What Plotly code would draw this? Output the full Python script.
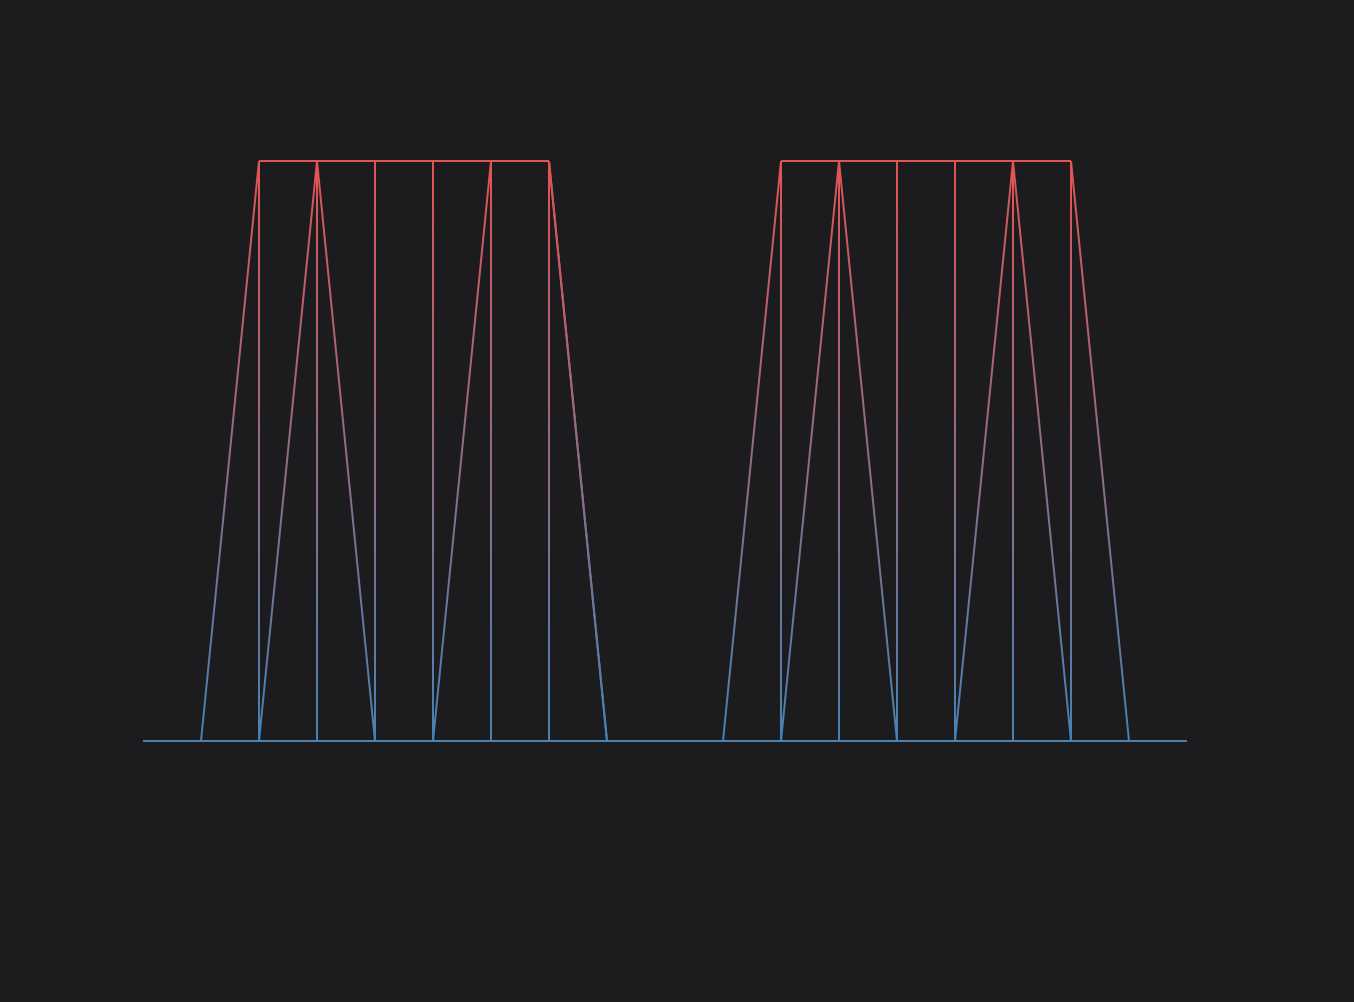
import plotly.graph_objects as go

# ---- data ----
x_vals = list(range(19))
trapezoid = [0, 0, 1, 1, 1, 1, 1, 1, 0, 0, 0, 1, 1, 1, 1, 1, 1, 0, 0]
pulses = [0, 0, 0, 1, 0, 0, 1, 1, 0, 0, 0, 0, 1, 0, 0, 1, 0, 0, 0]
clock_a = [0, 0, 1, 0, 1, 0, 1, 0, 0, 0, 0, 1, 0, 1, 0, 1, 0, 0, 0]
clock_b = [0, 0, 0, 1, 0, 1, 0, 0, 0, 0, 0, 0, 1, 0, 1, 0, 0, 0, 0]

BG = "#1c1c1e"
C_LOW = (70, 130, 180)
C_HIGH = (226, 84, 84)
N_BANDS = 58
Y_MIN, Y_MAX = 0.0, 1.0


def linear_segments(xs, ys):
    return [((xs[i], ys[i]), (xs[i + 1], ys[i + 1])) for i in range(len(xs) - 1)]


def step_hv_segments(xs, ys):
    segs = []
    for i in range(len(xs) - 1):
        segs.append(((xs[i], ys[i]), (xs[i + 1], ys[i])))
        if ys[i + 1] != ys[i]:
            segs.append(((xs[i + 1], ys[i]), (xs[i + 1], ys[i + 1])))
    return segs


def band_of(y):
    f = (y - Y_MIN) / (Y_MAX - Y_MIN)
    return min(max(int(f * N_BANDS), 0), N_BANDS - 1)


def color_of(k):
    f = (k + 0.5) / N_BANDS
    r, g, b = (round(C_LOW[j] + (C_HIGH[j] - C_LOW[j]) * f) for j in range(3))
    return f"rgb({r},{g},{b})"


bands = [([], []) for _ in range(N_BANDS)]

all_segs = (linear_segments(x_vals, trapezoid)
            + linear_segments(x_vals, pulses)
            + step_hv_segments(x_vals, clock_a)
            + step_hv_segments(x_vals, clock_b))

for (x0, y0), (x1, y1) in all_segs:
    if y0 == y1:
        bx, by = bands[band_of(y0)]
        bx += [x0, x1, None]
        by += [y0, y1, None]
        continue
    lo, hi = min(y0, y1), max(y0, y1)
    for k in range(N_BANDS):
        b0 = Y_MIN + (Y_MAX - Y_MIN) * k / N_BANDS
        b1 = Y_MIN + (Y_MAX - Y_MIN) * (k + 1) / N_BANDS
        a, c = max(lo, b0), min(hi, b1)
        if c <= a:
            continue
        ta = (a - y0) / (y1 - y0)
        tc = (c - y0) / (y1 - y0)
        bx, by = bands[k]
        bx += [x0 + (x1 - x0) * ta, x0 + (x1 - x0) * tc, None]
        by += [a, c, None]

fig = go.Figure()
for k, (bx, by) in enumerate(bands):
    if not bx:
        continue
    fig.add_trace(go.Scatter(
        x=bx, y=by, mode="lines",
        line=dict(color=color_of(k), width=2),
        hoverinfo="skip", showlegend=False,
    ))

fig.update_layout(
    width=1354, height=1002,
    paper_bgcolor=BG, plot_bgcolor=BG,
    margin=dict(l=114, r=138, t=103, b=203),
    xaxis=dict(range=[-0.5, 18.5], visible=False, fixedrange=True),
    yaxis=dict(range=[-0.1, 1.1], visible=False, fixedrange=True),
    showlegend=False,
)

fig.write_html("out.html")
